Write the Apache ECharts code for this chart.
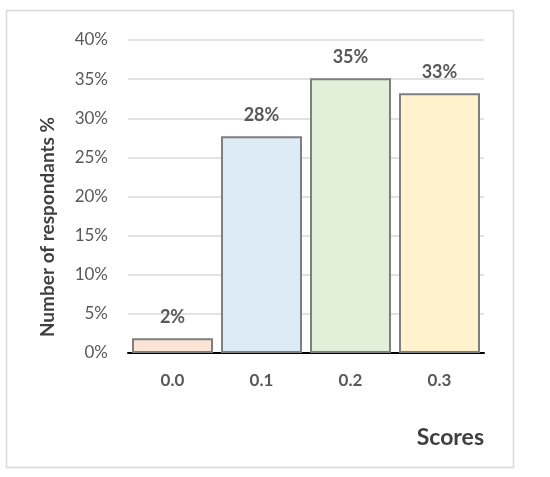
<!DOCTYPE html>
<html><head><meta charset="utf-8">
<script src="https://cdn.jsdelivr.net/npm/echarts@6/dist/echarts.min.js"></script>
<style>html,body{margin:0;padding:0;background:#fff}#c{width:550px;height:477px}</style>
</head><body><div id="c"></div>
<script>
const categories = ['0.0', '0.1', '0.2', '0.3'];
const values = [1.9, 27.7, 35.1, 33.2];
const barColors = ['#fbe5d6', '#ddebf7', '#e2f0d9', '#fff2cc'];
const yTicks = { min: 0, max: 40, interval: 5 };
const yTitle = 'Number of respondants %';
const xTitle = 'Scores';

const FONT = 'Lato, "Open Sans", sans-serif';
const chart = echarts.init(document.getElementById('c'), null, {renderer: 'canvas'});
chart.setOption({
  backgroundColor: '#fff',
  animation: false,
  grid: { left: 128, right: 66, top: 40, bottom: 124 },
  graphic: [
    { type: 'rect', shape: { x: 6.5, y: 10.5, width: 507, height: 457 },
      style: { fill: 'none', stroke: '#d9d9d9', lineWidth: 1.5 }, z: -10 },
    { type: 'text', x: 48, y: 227, rotation: Math.PI / 2,
      style: { text: yTitle, font: 'bold 19px ' + FONT, fill: '#404040',
               textAlign: 'center', textVerticalAlign: 'middle' } },
    { type: 'text', x: 484, y: 438,
      style: { text: xTitle, font: 'bold 23px ' + FONT, fill: '#404040',
               textAlign: 'right', textVerticalAlign: 'middle' } }
  ],
  xAxis: {
    type: 'category', data: categories,
    axisLine: { lineStyle: { color: '#000', width: 2 } },
    axisTick: { show: false },
    axisLabel: { color: '#595959', fontSize: 17, fontWeight: 'bold', fontFamily: FONT, margin: 19 }
  },
  yAxis: {
    type: 'value', min: yTicks.min, max: yTicks.max, interval: yTicks.interval,
    axisLine: { show: false }, axisTick: { show: false },
    axisLabel: { formatter: '{value}%', color: '#595959', fontSize: 17, fontFamily: FONT, margin: 20 },
    splitLine: { lineStyle: { color: '#d9d9d9', width: 1.5 } }
  },
  series: [{
    type: 'bar', barCategoryGap: '9%',
    data: values.map((v, i) => ({ value: v, itemStyle: { color: barColors[i] } })),
    itemStyle: { borderColor: '#7f7f7f', borderWidth: 2 },
    label: { show: true, position: 'top', distance: 12,
             formatter: p => Math.round(p.value) + '%',
             color: '#595959', fontSize: 18, fontWeight: 'bold', fontFamily: FONT }
  }]
});
</script></body></html>
